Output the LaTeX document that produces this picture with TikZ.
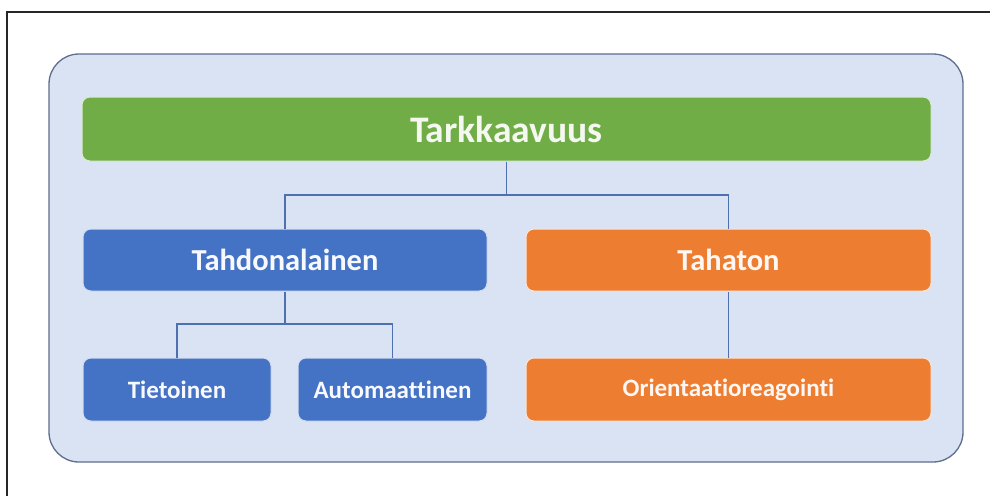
\documentclass[tikz,border=0pt]{standalone}
\usepackage{fontspec}
\setmainfont{Carlito}[Ligatures={NoCommon}]
\definecolor{panelfill}{HTML}{DAE3F3}
\definecolor{paneledge}{HTML}{5E6E8E}
\definecolor{topgreen}{HTML}{70AD47}
\definecolor{midblue}{HTML}{4472C4}
\definecolor{midorange}{HTML}{ED7D31}
\definecolor{linkblue}{HTML}{4F70AE}
\tikzset{
  tile/.style={rectangle, rounded corners=8pt, inner sep=0pt, line width=1pt,
    font=\bfseries, align=center},
  greentile/.style={tile, fill=topgreen, draw=topgreen!25!white, text=topgreen!8!white},
  bluetile/.style={tile, fill=midblue, draw=midblue!25!white, text=white!96!midblue},
  orangetile/.style={tile, fill=midorange, draw=midorange!20!white, text=white!94!midorange},
  link/.style={draw=linkblue, line width=1.3pt}
}
\begin{document}
\begin{tikzpicture}[x=1pt,y=-1pt]
  % page and frame
  \fill[white] (0,0) rectangle (990,496);
  \useasboundingbox (0,0) rectangle (990,496);
  \draw[black!85, line width=1.5pt] (7,496) -- (7,12) -- (990,12);
  % backing panel
  \draw[fill=panelfill, draw=paneledge, line width=1.3pt, rounded corners=30pt]
    (49,54) rectangle (963,462);

  % boxes
  \node[greentile, minimum width=849pt, minimum height=64pt, font=\bfseries\fontsize{37.5}{42}\selectfont]
    (root) at (506.5,129) {Tarkkaavuus};
  \node[bluetile, minimum width=404pt, minimum height=62pt, font=\bfseries\fontsize{30.5}{34}\selectfont]
    (vol) at (285,260) {Tahdonalainen};
  \node[orangetile, minimum width=405pt, minimum height=62pt, font=\bfseries\fontsize{30.5}{34}\selectfont]
    (invol) at (728.5,260) {Tahaton};
  \node[bluetile, minimum width=188pt, minimum height=63pt, font=\bfseries\fontsize{25}{29}\selectfont]
    (conscious) at (177,389.5) {Tietoinen};
  \node[bluetile, minimum width=189pt, minimum height=63pt, font=\bfseries\fontsize{25}{29}\selectfont]
    (auto) at (392.5,389.5) {Automaattinen};
  \node[orangetile, minimum width=405pt, minimum height=63pt, font=\bfseries\fontsize{25}{29}\selectfont]
    (orient) at (728.5,389.5) {Orientaatioreagointi};

  % connectors
  \coordinate (fork1) at (506.5,195);
  \coordinate (fork2) at (285,324);
  \draw[link] (root.south) -- (fork1);
  \draw[link] (fork1) -| (vol.north);
  \draw[link] (fork1) -| (invol.north);
  \draw[link] (vol.south) -- (fork2);
  \draw[link] (fork2) -| (conscious.north);
  \draw[link] (fork2) -| (auto.north);
  \draw[link] (invol.south) -- (orient.north);
\end{tikzpicture}
\end{document}
